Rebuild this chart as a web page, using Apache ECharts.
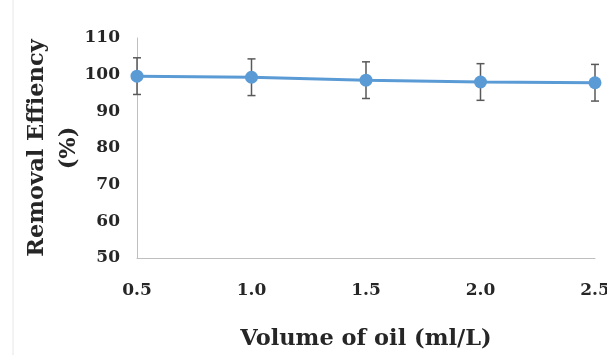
<!DOCTYPE html>
<html><head><meta charset="utf-8">
<script src="https://cdn.jsdelivr.net/npm/echarts@6/dist/echarts.min.js"></script>
<style>html,body{margin:0;padding:0;background:#fff}#c{width:607px;height:355px}</style>
</head><body><div id="c"></div>
<script>
const volumes = [0.5, 1.0, 1.5, 2.0, 2.5];
const efficiency = [99.6, 99.3, 98.5, 98.0, 97.8];
const errors = [5, 5, 5, 5, 5];
const yTicks = [50, 60, 70, 80, 90, 100, 110];
const xTitle = 'Volume of oil (ml/L)';
const yTitle = 'Removal Effiency\n(%)';

const font = 'DejaVu Serif';
const lineData = volumes.map((v, i) => [v, efficiency[i]]);
const errData = volumes.map((v, i) => [v, efficiency[i] - errors[i], efficiency[i] + errors[i]]);

const chart = echarts.init(document.getElementById('c'), null, {renderer: 'canvas'});
chart.setOption({
  animation: false,
  backgroundColor: '#fff',
  graphic: [{type: 'line', shape: {x1: 13, y1: 0, x2: 13, y2: 355}, style: {stroke: '#e6e6e6', lineWidth: 1}}],
  grid: {left: 137, right: 12, top: 38, bottom: 97, containLabel: false, outerBoundsMode: 'none'},
  xAxis: {
    type: 'value', min: 0.5, max: 2.5, interval: 0.5,
    axisLine: {lineStyle: {color: '#bfbfbf', width: 1}},
    axisTick: {show: false},
    splitLine: {show: false},
    axisLabel: {formatter: v => v.toFixed(1), color: '#262626', fontFamily: font, fontWeight: 'bold', fontSize: 17, margin: 24},
    name: xTitle, nameLocation: 'middle', nameGap: 70, nameMoveOverlap: false,
    nameTextStyle: {color: '#262626', fontFamily: font, fontWeight: 'bold', fontSize: 22.5}
  },
  yAxis: {
    type: 'value', min: yTicks[0], max: yTicks[yTicks.length - 1], interval: 10,
    axisLine: {show: true, lineStyle: {color: '#bfbfbf', width: 1}},
    axisTick: {show: false},
    splitLine: {show: false},
    axisLabel: {color: '#262626', fontFamily: font, fontWeight: 'bold', fontSize: 17, margin: 17},
    name: yTitle, nameLocation: 'middle', nameGap: 52, nameMoveOverlap: false,
    nameTextStyle: {color: '#262626', fontFamily: font, fontWeight: 'bold', fontSize: 22.5, lineHeight: 32}
  },
  series: [
    {
      type: 'custom', z: 1,
      data: errData,
      renderItem: (params, api) => {
        const x = api.value(0);
        const lo = api.coord([x, api.value(1)]);
        const hi = api.coord([x, api.value(2)]);
        const w = 4;
        const st = {stroke: '#595959', lineWidth: 1.5};
        return {type: 'group', children: [
          {type: 'line', shape: {x1: lo[0], y1: lo[1], x2: hi[0], y2: hi[1]}, style: st},
          {type: 'line', shape: {x1: lo[0] - w, y1: lo[1], x2: lo[0] + w, y2: lo[1]}, style: st},
          {type: 'line', shape: {x1: hi[0] - w, y1: hi[1], x2: hi[0] + w, y2: hi[1]}, style: st}
        ]};
      }
    },
    {
      type: 'line', z: 2,
      data: lineData,
      symbol: 'circle', symbolSize: 13,
      lineStyle: {color: '#5b9bd5', width: 3},
      itemStyle: {color: '#5b9bd5'}
    }
  ]
});
</script></body></html>
